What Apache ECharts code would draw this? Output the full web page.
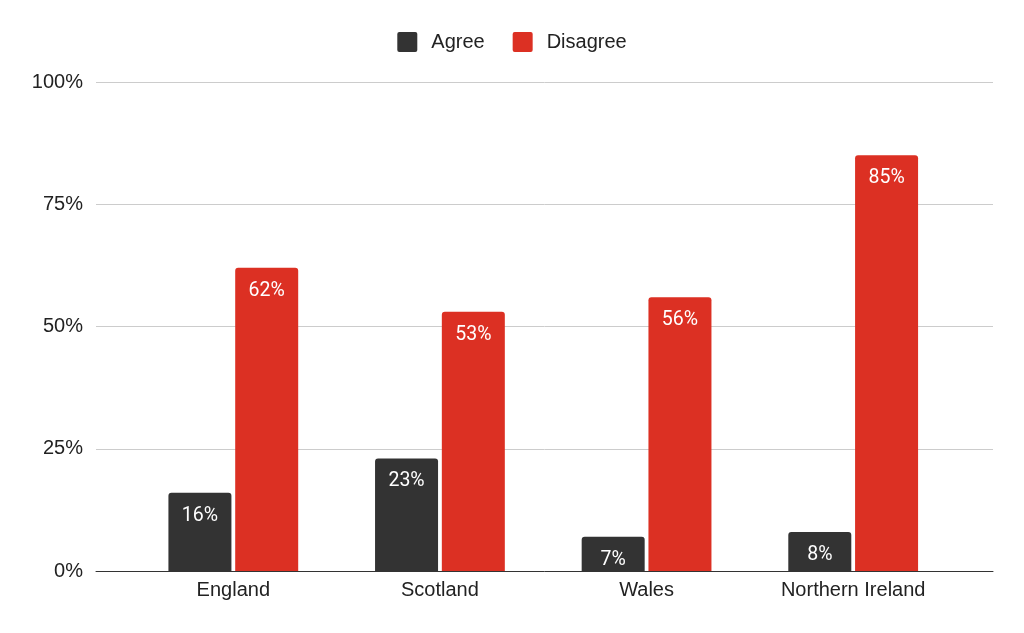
<!DOCTYPE html>
<html>
<head>
<meta charset="utf-8">
<script src="https://cdn.jsdelivr.net/npm/echarts@6/dist/echarts.min.js"></script>
<style>
html,body{margin:0;padding:0;background:#fff;}
#chart{width:1024px;height:633px;}
</style>
</head>
<body>
<div id="chart"></div>
<script>
const categories = ['England', 'Scotland', 'Wales', 'Northern Ireland'];
const agree = [16, 23, 7, 8];
const disagree = [62, 53, 56, 85];
const yTicks = [0, 25, 50, 75, 100];

const FONT = '"Liberation Sans", Arial, sans-serif';
const LABEL_FONT = 'Roboto';
const chart = echarts.init(document.getElementById('chart'), null, {renderer: 'canvas'});

const barLabel = {
  show: true,
  position: 'insideTop',
  distance: 13,
  color: '#ffffff',
  fontFamily: LABEL_FONT,
  fontSize: 19.5,
  fontWeight: 'normal',
  formatter: p => p.value + '%'
};

const legendIcon = 'path://M2,0 H18 Q20,0 20,2 V18 Q20,20 18,20 H2 Q0,20 0,18 V2 Q0,0 2,0 Z';

chart.setOption({
  animation: false,
  backgroundColor: '#ffffff',
  textStyle: {fontFamily: FONT},
  legend: {
    top: 27,
    left: 'center',
    itemWidth: 20,
    itemHeight: 20,
    itemGap: 28,
    icon: legendIcon,
    textStyle: {fontFamily: FONT, fontSize: 20, color: '#222222', padding: [0, 0, 0, 9]},
    data: ['Agree', 'Disagree']
  },
  grid: [
    {left: 96, right: 31, top: 82, bottom: 62},
    {left: 130, right: 67.5, top: 82, bottom: 62}
  ],
  xAxis: [
    {
      type: 'category', gridIndex: 0, data: categories,
      axisLine: {show: true, lineStyle: {color: '#333333', width: 1}},
      axisTick: {show: false}, axisLabel: {show: false}, splitLine: {show: false}
    },
    {
      type: 'category', gridIndex: 1, data: categories,
      axisLine: {show: false}, axisTick: {show: false},
      axisLabel: {fontFamily: FONT, fontSize: 20, color: '#222222', margin: 9}
    }
  ],
  yAxis: [
    {
      type: 'value', gridIndex: 0, min: yTicks[0], max: yTicks[yTicks.length - 1], interval: 25,
      axisLine: {show: false}, axisTick: {show: false},
      axisLabel: {fontFamily: FONT, fontSize: 20, color: '#222222', margin: 13, formatter: v => v + '%'},
      splitLine: {show: true, lineStyle: {color: '#cccccc', width: 1}}
    },
    {
      type: 'value', gridIndex: 1, min: yTicks[0], max: yTicks[yTicks.length - 1], interval: 25,
      show: false, splitLine: {show: false}
    }
  ],
  series: [
    {
      name: 'Agree', type: 'bar', xAxisIndex: 1, yAxisIndex: 1,
      data: agree, barWidth: 63, barGap: '6%',
      itemStyle: {color: '#333333', borderRadius: [3, 3, 0, 0]},
      label: barLabel
    },
    {
      name: 'Disagree', type: 'bar', xAxisIndex: 1, yAxisIndex: 1,
      data: disagree, barWidth: 63, barGap: '6%',
      itemStyle: {color: '#dc3023', borderRadius: [3, 3, 0, 0]},
      label: barLabel
    }
  ]
});
</script>
</body>
</html>
